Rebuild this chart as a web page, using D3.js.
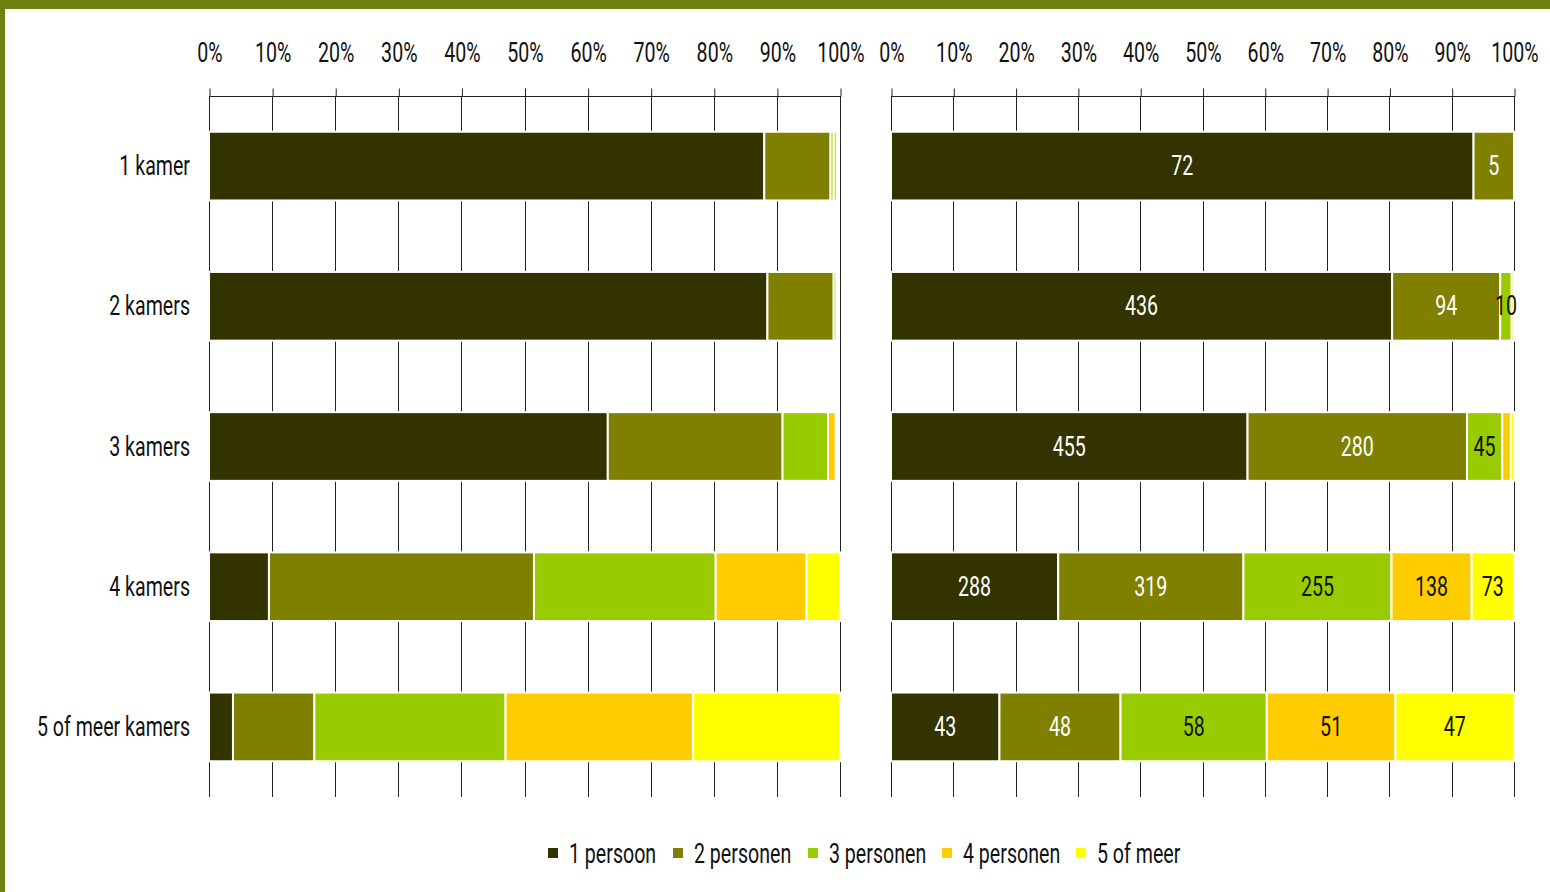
<!DOCTYPE html>
<html>
<head>
<meta charset="utf-8">
<script src="https://cdn.jsdelivr.net/npm/d3@7"></script>
<style>
  html, body { margin: 0; padding: 0; background: #fff; }
  svg { display: block; }
  text { font-family: Roboto, "Liberation Sans", sans-serif; font-weight: 400; fill: #111; }
</style>
</head>
<body>
<script>
// Room types and household sizes
const categories = ["1 kamer", "2 kamers", "3 kamers", "4 kamers", "5 of meer kamers"];
const seriesNames = ["1 persoon", "2 personen", "3 personen", "4 personen", "5 of meer"];
const seriesColors = ["#333300", "#808000", "#99CC00", "#FFCC00", "#FFFF00"];

// Left panel: share of households per room type (percent)
const leftP1 = [88.0, 88.5, 63.2, 9.5, 3.8];
const leftP2 = [10.5, 10.5, 27.7, 42.0, 12.9];
const leftP3 = [0.5, 0.4, 7.2, 28.8, 30.3];
const leftP4 = [0.5, 0.0, 1.2, 14.4, 29.7];
const leftP5 = [0.0, 0.0, 0.0, 5.3, 23.3];

// Right panel: number of households per room type
const rightP1 = [72, 436, 455, 288, 43];
const rightP2 = [5, 94, 280, 319, 48];
const rightP3 = [0, 10, 45, 255, 58];
const rightP4 = [0, 2, 11, 138, 51];
const rightP5 = [0, 0, 4, 73, 47];

const tickLabels = ["0%", "10%", "20%", "30%", "40%", "50%", "60%", "70%", "80%", "90%", "100%"];

const W = 1550, H = 892;
const FS = 28;     // font size
const SX = 0.7;    // horizontal squeeze for a narrow typeface look

const svg = d3.select("body").append("svg").attr("width", W).attr("height", H);

// places a horizontally condensed text
function addText(parent, x, yPos, str, anchor, color) {
  return parent.append("text")
    .attr("transform", `translate(${x},${yPos}) scale(${SX},1)`)
    .attr("text-anchor", anchor || "start")
    .attr("font-size", FS)
    .style("fill", color || "#111")
    .text(str);
}

// frame
const frameColor = "#6f8010";
svg.append("rect").attr("x", 0).attr("y", 0).attr("width", W).attr("height", 9).attr("fill", frameColor);
svg.append("rect").attr("x", 0).attr("y", 0).attr("width", 5).attr("height", H).attr("fill", frameColor);

const plotTop = 96, plotBottom = 797;
const y = d3.scaleBand().domain(categories).range([plotTop, plotBottom]).paddingInner(0.51).paddingOuter(0.255);

const leftRows = categories.map((c, i) => ({ cat: c, vals: [leftP1[i], leftP2[i], leftP3[i], leftP4[i], leftP5[i]] }));
const rightRows = categories.map((c, i) => ({ cat: c, vals: [rightP1[i], rightP2[i], rightP3[i], rightP4[i], rightP5[i]] }));

function drawPanel(rows, x0, x1, normalize, withLabels) {
  const x = d3.scaleLinear().domain([0, 1]).range([x0, x1]);
  const g = svg.append("g");
  const ticks = d3.range(0, 11).map(i => i / 10);

  // gridlines
  g.selectAll("line.grid").data(ticks).join("line")
    .attr("x1", d => Math.round(x(d)) + 0.5).attr("x2", d => Math.round(x(d)) + 0.5)
    .attr("y1", plotTop).attr("y2", plotBottom)
    .attr("stroke", "#222").attr("stroke-width", 1);

  // top axis
  const axis = d3.axisTop(x).tickValues(ticks).tickSize(8).tickFormat((d, i) => tickLabels[i]);
  const ag = g.append("g").attr("transform", `translate(0.5,${plotTop + 0.5})`).call(axis);
  ag.select(".domain").attr("stroke", "#222").attr("d", `M${x0 - 0.5},-0V0H${x1 - 0.5}`);
  ag.selectAll(".tick line").attr("stroke", "#222");
  ag.selectAll(".tick text")
    .attr("font-size", FS).attr("font-family", null)
    .attr("x", 0).attr("y", 0).attr("dy", 0)
    .attr("transform", `translate(0,-35) scale(${SX},1)`)
    .style("fill", "#111");

  // stacked bars, value labels on a layer above them
  const barG = g.append("g");
  const labelG = g.append("g");
  rows.forEach(r => {
    const total = normalize ? d3.sum(r.vals) : 100;
    let acc = 0;
    r.vals.forEach((v, k) => {
      const a = acc / total, b = (acc + v) / total;
      acc += v;
      if (v <= 0) return;
      const xa = x(a), xb = x(b);
      barG.append("rect")
        .attr("x", xa).attr("y", y(r.cat))
        .attr("width", xb - xa).attr("height", y.bandwidth())
        .attr("fill", seriesColors[k])
        .attr("stroke", "#fff").attr("stroke-width", 2);
      if (withLabels && xb - xa >= 10) {
        addText(labelG, (xa + xb) / 2, y(r.cat) + y.bandwidth() / 2 + 9, v, "middle", k < 2 ? "#fff" : "#111");
      }
    });
  });
}

drawPanel(leftRows, 209, 840, false, false);
drawPanel(rightRows, 891, 1514, true, true);

// category labels
const catG = svg.append("g");
categories.forEach(c => addText(catG, 190, y(c) + y.bandwidth() / 2 + 9, c, "end"));

// legend
const legend = svg.append("g");
const legendX = [548, 673, 808, 942, 1076];
seriesNames.forEach((n, i) => {
  legend.append("rect").attr("x", legendX[i]).attr("y", 848).attr("width", 10).attr("height", 10).attr("fill", seriesColors[i]);
  addText(legend, legendX[i] + 21, 863, n, "start");
});
</script>
</body>
</html>
